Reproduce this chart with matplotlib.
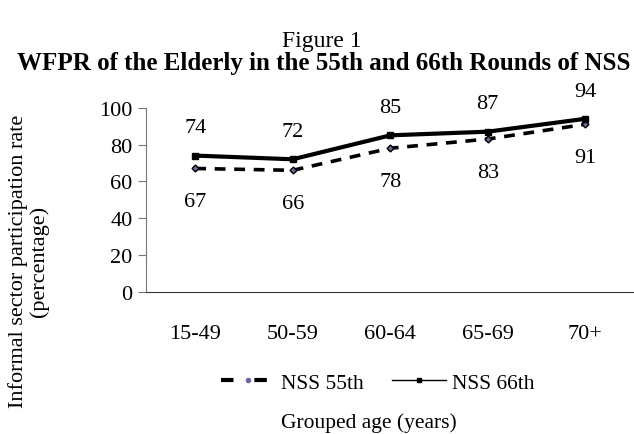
import matplotlib.pyplot as plt
from matplotlib.lines import Line2D

plt.rcParams['font.family'] = ['Liberation Serif', 'DejaVu Serif']

ages = ['15-49', '50-59', '60-64', '65-69', '70+']
nss55 = [67, 66, 78, 83, 91]
nss66 = [74, 72, 85, 87, 94]

fig = plt.figure(figsize=(6.34, 4.35), dpi=100)
ax = fig.add_axes([0.231, 0.327, 0.769, 0.423])

x = list(range(len(ages)))
ax.plot(x, nss55, color='black', linestyle=(0, (3, 2.4)), linewidth=2.6,
        marker='D', markersize=3.5, markerfacecolor='#6a6aa0',
        markeredgecolor='black')
ax.plot(x, nss66, color='black', linewidth=3, marker='s', markersize=4)

for i in x:
    ax.annotate(str(nss66[i]), (i, nss66[i]), xytext=(0, 20),
                textcoords='offset points', ha='center', va='center', fontsize=16)
    ax.annotate(str(nss55[i]), (i, nss55[i]), xytext=(0, -24),
                textcoords='offset points', ha='center', va='center', fontsize=16)

ax.set_xlim(-0.5, 4.5)
ax.set_ylim(0, 100)
ax.set_yticks(range(0, 101, 20))
ax.set_xticks(x)
ax.set_xticklabels(ages)
ax.tick_params(axis='x', length=0, pad=23, labelsize=16)
ax.tick_params(axis='y', length=6, direction='out', labelsize=16, width=0.8,
               color='#777777', pad=4)
ax.spines['top'].set_visible(False)
ax.spines['right'].set_visible(False)
ax.spines['left'].set_color('#777777')
ax.spines['bottom'].set_color('#333333')

fig.text(0.508, 0.905, 'Figure 1', ha='center', va='center', fontsize=17)
fig.text(0.510, 0.855, 'WFPR of the Elderly in the 55th and 66th Rounds of NSS',
         ha='center', va='center', fontsize=18, fontweight='bold')
fig.text(0.045, 0.40, 'Informal sector participation rate\n(percentage)',
         rotation=90, ha='center', va='center', fontsize=16, linespacing=1.05)
fig.text(0.582, 0.028, 'Grouped age (years)', ha='center', va='center', fontsize=15.5)

handles = [
    Line2D([], [], color='black', linestyle=(0, (3, 5)), linewidth=3,
           marker='o', markersize=3, markerfacecolor='#6a6aa0',
           markeredgecolor='#6a6aa0'),
    Line2D([], [], color='black', linewidth=1, marker='s', markersize=3),
]
fig.legend(handles, ['NSS 55th', 'NSS 66th'], loc='center',
           bbox_to_anchor=(0.596, 0.118), ncol=2, frameon=False, fontsize=15.5,
           handlelength=2.5, columnspacing=1.3, handletextpad=0.3)

fig.savefig('out.png', dpi=100)
